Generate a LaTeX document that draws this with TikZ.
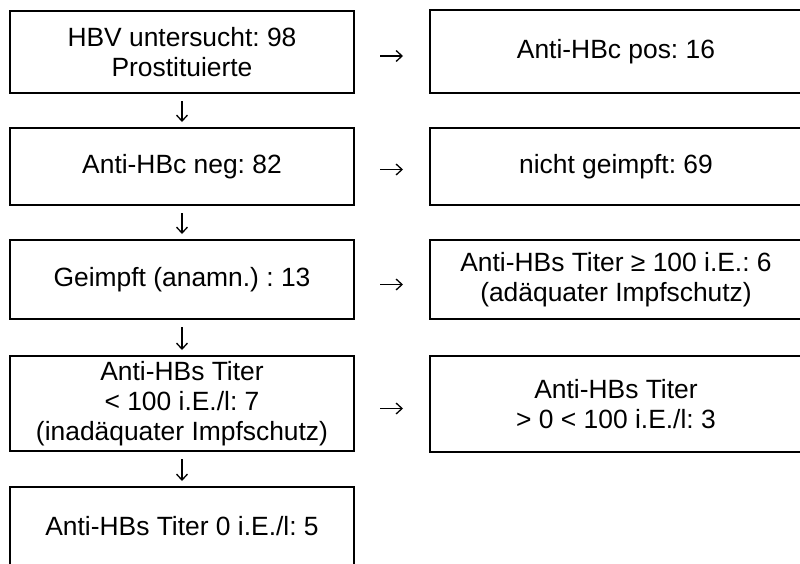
\documentclass[tikz,border=0pt]{standalone}
\usepackage{fontspec}
\setmainfont{Liberation Sans}
\usetikzlibrary{arrows.meta}
\frenchspacing
\begin{document}
\begin{tikzpicture}[x=1pt,y=-1pt,
  box/.style={draw=black, line width=2pt, rectangle, inner sep=0pt, align=center,
    font=\fontsize{26.4}{30}\selectfont\frenchspacing},
  lbox/.style={box, minimum width=344pt},
  rbox/.style={box, minimum width=372pt},
  flow/.style={line width=1.3pt, -{Straight Barb[length=6pt,width=11pt]}},
  hflow/.style={flow, shorten <=25pt, shorten >=26pt},
  vflow/.style={flow, shorten <=7pt, shorten >=5pt}]
\clip (0,0) rectangle (800,563);
\fill[white] (0,0) rectangle (800,563);
\node[lbox, minimum height=82pt] (L1) at (182,52) {HBV untersucht: 98\\Prostituierte};
\node[lbox, minimum height=77pt] (L2) at (182,166.5) {Anti-HBc neg: 82};
\node[lbox, minimum height=79pt] (L3) at (182,279.5) {Geimpft (anamn.) : 13};
\node[lbox, minimum height=95pt] (L4) at (182,403.5) {Anti-HBs Titer\\< 100 i.E./l: 7\\(inadäquater Impfschutz)};
\node[lbox, minimum height=79pt] (L5) at (182,526.5) {Anti-HBs Titer 0 i.E./l: 5};
\node[rbox, minimum height=83pt] (R1) at (616,51.5) {Anti-HBc pos: 16};
\node[rbox, minimum height=77pt] (R2) at (616,166.5) {nicht geimpft: 69};
\node[rbox, minimum height=79pt] (R3) at (616,279.5) {Anti-HBs Titer ≥ 100 i.E.: 6\\(adäquater Impfschutz)};
\node[rbox, minimum height=96pt] (R4) at (616,404) {Anti-HBs Titer\\> 0 < 100 i.E./l: 3};
\draw[hflow] ([yshift=-4pt]L1.east) -- ([yshift=-4pt]L1.east -| R1.west);
\draw[hflow] ([yshift=-3pt]L2.east) -- ([yshift=-3pt]L2.east -| R2.west);
\draw[hflow] ([yshift=-5pt]L3.east) -- ([yshift=-5pt]L3.east -| R3.west);
\draw[hflow] ([yshift=-5pt]L4.east) -- ([yshift=-5pt]L4.east -| R4.west);
\draw[vflow] (L1.south) -- (L2.north);
\draw[vflow] (L2.south) -- (L3.north);
\draw[vflow] (L3.south) -- (L4.north);
\draw[vflow] (L4.south) -- (L5.north);
\end{tikzpicture}
\end{document}
